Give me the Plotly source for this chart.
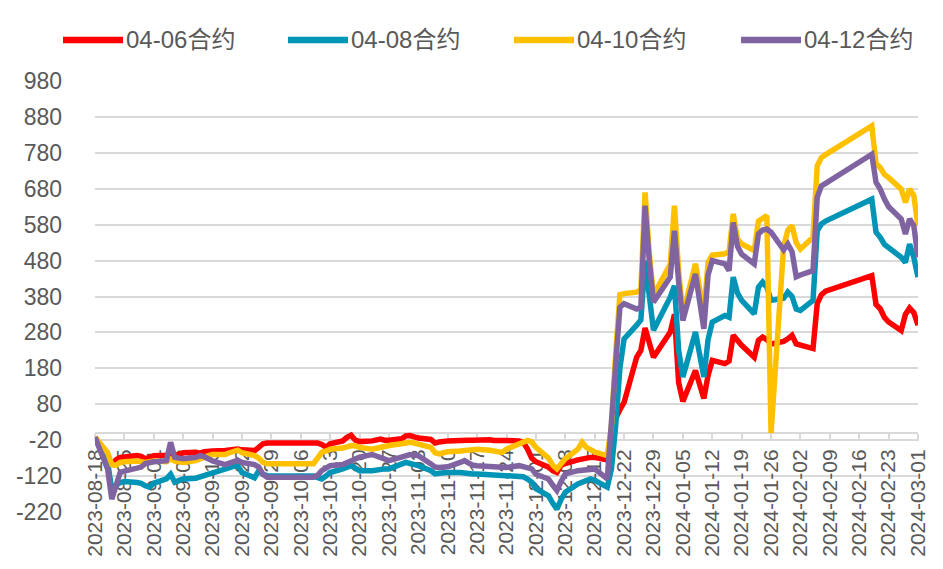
import pandas as pd
import plotly.graph_objects as go

# ---------------- data ----------------
holidays = ["2023-09-29", "2023-10-02", "2023-10-03", "2023-10-04", "2023-10-05",
            "2023-10-06", "2024-01-01", "2024-02-09", "2024-02-12", "2024-02-13",
            "2024-02-14", "2024-02-15", "2024-02-16"]
dates = [d for d in pd.bdate_range("2023-08-18", "2024-03-01")
         if d.strftime("%Y-%m-%d") not in holidays]

series_names = ["04-06合约", "04-08合约", "04-10合约", "04-12合约"]
series_colors = ["#FF0000", "#0095B6", "#FFC000", "#8064A2"]

red = [
    -12,
    -60, -91, -75, -68, -66,
    -63, -65, -72, -68, -63,
    -62, -60, -63, -58, -55,
    -54, -56, -52, -50, -50,
    -49, -47, -45, -45, -47,
    -49, -40, -30, -28,
    -28, -28, -32, -40, -30,
    -22, -12, -6, -20, -24,
    -22, -18, -17, -20, -20,
    -16, -8, -7, -12, -14,
    -18, -28, -25, -22, -22,
    -21, -22, -20, -20, -19,
    -19, -21, -20, -22, -21,
    -22, -26, -45, -70, -80,
    -95, -105, -110, -90, -85,
    -75, -72, -70, -68, -68,
    -75, -15, 40, 65, 85,
    211, 230, 292, 250, 211,
    281, 330, 140, 88,
    174, 135, 96, 160, 202,
    193, 200, 272, 255, 244,
    211, 258, 267, 260, 248,
    255, 262, 272, 248, 245,
    235, 360, 385, 395,
    438, 358, 346, 322, 309,
    285, 330, 348, 335, 300,
]

blue = [
    -12,
    -80, -160, -145, -138, -135,
    -138, -140, -147, -151, -140,
    -128, -115, -137, -132, -128,
    -126, -122, -118, -115, -112,
    -100, -97, -93, -91, -110,
    -125, -105, -115, -119,
    -120, -123, -128, -120, -110,
    -100, -95, -91, -98, -105,
    -105, -103, -100, -100, -100,
    -85, -82, -85, -88, -91,
    -105, -114, -112, -110, -110,
    -110, -112, -114, -114, -114,
    -116, -116, -118, -119, -119,
    -120, -122, -128, -137, -155,
    -175, -195, -212, -185, -165,
    -142, -138, -133, -128, -132,
    -151, -100, 20, 180, 262,
    300, 315, 480, 370, 286,
    378, 410, 230, 156,
    281, 220, 156, 260, 309,
    327, 322, 434, 390, 369,
    332, 406, 420, 406, 369,
    375, 392, 380, 345, 341,
    369, 563, 582, 590,
    651, 559, 545, 525, 517,
    489, 475, 526, 489, 434,
]

yellow = [
    -12,
    -55, -88, -90, -82, -80,
    -78, -80, -82, -80, -78,
    -80, -72, -78, -80, -82,
    -77, -72, -65, -63, -60,
    -60, -55, -52, -48, -55,
    -63, -70, -82, -86,
    -86, -70, -54, -50, -45,
    -42, -38, -35, -36, -40,
    -45, -42, -40, -37, -35,
    -30, -28, -26, -28, -31,
    -40, -55, -58, -55, -52,
    -50, -48, -46, -45, -45,
    -48, -50, -52, -54, -45,
    -30, -22, -21, -25, -40,
    -70, -90, -100, -85, -72,
    -45, -26, -40, -48, -53,
    -63, 20, 220, 385, 388,
    392, 400, 670, 500, 383,
    470, 633, 450, 332,
    471, 400, 332, 475, 495,
    499, 505, 610, 540, 526,
    508, 590, 600, 605, 0,
    520, 565, 577, 530, 512,
    545, 744, 767, 775,
    855, 750, 739, 720, 711,
    679, 642, 679, 661, 577,
]

purple = [
    -12,
    -100, -184, -140, -110, -106,
    -100, -95, -85, -82, -80,
    -77, -26, -68, -70, -72,
    -68, -63, -66, -72, -78,
    -88, -85, -80, -76, -82,
    -88, -95, -115, -123,
    -123, -118, -105, -98, -91,
    -88, -82, -77, -72, -67,
    -60, -65, -70, -74, -77,
    -67, -62, -60, -62, -63,
    -86, -95, -96, -96, -94,
    -82, -77, -84, -90, -91,
    -92, -93, -95, -95, -96,
    -91, -93, -96, -100, -115,
    -128, -145, -160, -135, -114,
    -105, -104, -102, -100, -100,
    -128, 20, 180, 350, 360,
    345, 350, 633, 480, 364,
    434, 563, 420, 313,
    443, 360, 290, 440, 480,
    471, 452, 586, 520, 498,
    471, 554, 565, 568, 559,
    510, 526, 505, 435, 440,
    452, 656, 688, 695,
    776, 698, 679, 651, 630,
    596, 554, 596, 577, 489,
]

series_values = [red, blue, yellow, purple]

y_tick_values = [-220, -120, -20, 80, 180, 280, 380, 480, 580, 680, 780, 880, 980]
y_tick_labels = ["-220", "-120", "-20", "80", "180", "280", "380", "480",
                 "580", "680", "780", "880", "980"]
y_min, y_max = -220, 980
x_first, x_last = "2023-08-18", "2024-03-01"

# ---------------- figure ----------------
# the page body adds an 8px offset, so the figure is 8px smaller in each direction
OFF = 8
W, H = 943 - OFF, 569 - OFF
L, R, T, B = 95 - OFF, 25, 81 - OFF, 57
plot_w, plot_h = W - L - R, H - T - B

def px_x(px):  # window pixel -> paper fraction
    return (px - OFF - L) / plot_w

def px_y(py):
    return (H - B - (py - OFF)) / plot_h

fig = go.Figure()
for name, color, vals in zip(series_names, series_colors, series_values):
    fig.add_trace(go.Scatter(
        x=dates, y=vals, mode="lines", name=name,
        line=dict(color=color, width=5.5), showlegend=False,
    ))

txt_color = "#595959"
grid_color = "#D9D9D9"
font_fam = "Liberation Sans, Arial, Noto Sans CJK SC, sans-serif"

# legend drawn as line samples + real text
legend_x0 = [63, 288, 514, 741]
shapes, annotations = [], []
for name, color, x0 in zip(series_names, series_colors, legend_x0):
    shapes.append(dict(type="line", xref="paper", yref="paper",
                       x0=px_x(x0), x1=px_x(x0 + 60), y0=px_y(40), y1=px_y(40),
                       line=dict(color=color, width=6.5)))
    annotations.append(dict(text=name, xref="paper", yref="paper",
                            x=px_x(x0 + 61), y=px_y(40), xanchor="left", yanchor="middle",
                            showarrow=False,
                            font=dict(size=24, color=txt_color,
                                      family="Liberation Sans, Noto Sans CJK SC, sans-serif")))

fig.update_layout(
    width=W, height=H,
    margin=dict(l=L, r=R, t=T, b=B, autoexpand=False),
    paper_bgcolor="white", plot_bgcolor="white",
    font=dict(family=font_fam, color=txt_color),
    shapes=shapes, annotations=annotations,
    xaxis=dict(
        type="date", range=[x_first, x_last],
        anchor="free", position=(0 - y_min) / (y_max - y_min),
        tickmode="linear", tick0=x_first, dtick=7 * 86400000,
        tickformat="%Y-%m-%d", tickangle=-90,
        ticks="outside", ticklen=7, tickwidth=2, tickcolor=grid_color,
        showline=True, linecolor=grid_color, linewidth=2,
        showgrid=False, zeroline=False,
        tickfont=dict(size=21, color=txt_color),
        layer="below traces", automargin=False,
    ),
    yaxis=dict(
        range=[y_min, y_max], tickmode="array",
        tickvals=y_tick_values, ticktext=y_tick_labels,
        showgrid=True, gridcolor=grid_color, gridwidth=2,
        zeroline=False, showline=False, ticks="",
        tickfont=dict(size=23, color=txt_color),
        ticklabelstandoff=32, automargin=False,
    ),
)

fig.write_html("out.html")
